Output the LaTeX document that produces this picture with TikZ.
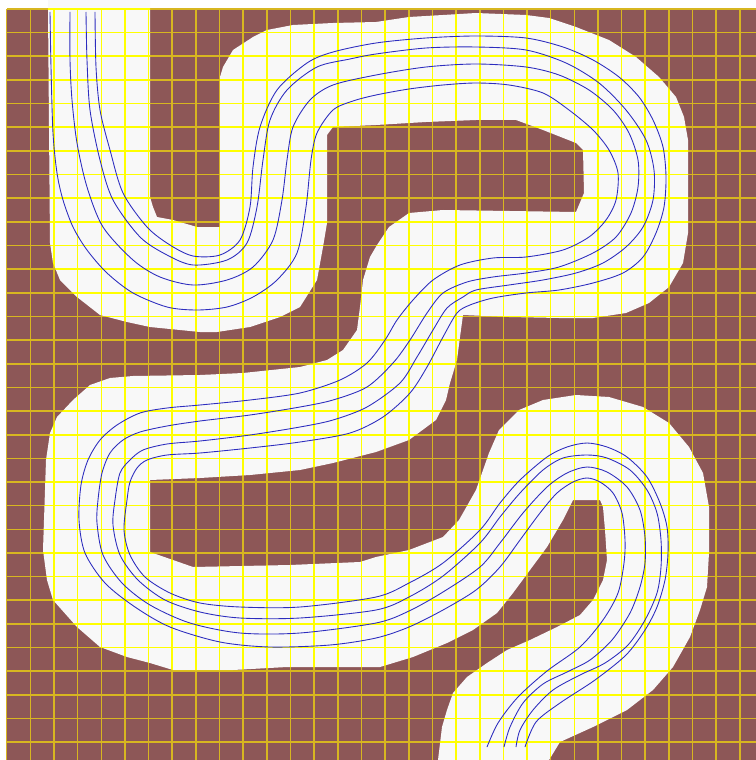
\documentclass[tikz,border=0pt]{standalone}
\definecolor{ground}{RGB}{141,87,87}
\definecolor{trackwhite}{RGB}{248,248,248}
\definecolor{gridyellow}{RGB}{255,255,0}
\definecolor{gridgold}{RGB}{215,182,32}
\definecolor{laneblue}{RGB}{45,45,190}

\def\trackoutline{(48,0) -- (48,9) -- (50,243) -- (53,263) -- (60,280) -- (77,297) -- (100,315)
    -- (127,322) -- (150,327) -- (200,332) -- (217,332) -- (250,327) -- (280,317) -- (300,307)
    -- (317,280) -- (323,247) -- (327,223) -- (327,135) -- (333,127) -- (376,125) -- (426,122)
    -- (476,120) -- (516,120) -- (543,130) -- (576,143) -- (583,150) -- (584,193) -- (576,212)
    -- (443,210) -- (409,213) -- (389,227) -- (377,245) -- (370,257) -- (363,280) -- (360,307)
    -- (357,330) -- (343,350) -- (327,360) -- (300,367) -- (243,373) -- (200,375) -- (133,376)
    -- (110,378) -- (90,385) -- (73,400) -- (57,417) -- (50,433) -- (46,460) -- (43,550)
    -- (47,580) -- (53,600) -- (77,627) -- (100,647) -- (127,657) -- (150,663) -- (173,670)
    -- (233,670) -- (287,667) -- (333,667) -- (380,667) -- (413,657) -- (447,643) -- (473,630)
    -- (497,613) -- (513,593) -- (530,570) -- (547,547) -- (563,520) -- (573,500) -- (600,500)
    -- (603,507) -- (605,530) -- (607,560) -- (603,580) -- (593,600) -- (580,615) -- (557,627)
    -- (530,640) -- (507,650) -- (487,663) -- (467,677) -- (453,693) -- (447,710) -- (442,727)
    -- (438,760) -- (549,760) -- (560,742) -- (593,727) -- (627,710) -- (653,690) -- (673,667)
    -- (690,637) -- (700,610) -- (707,587) -- (709,553) -- (709,507) -- (703,473) -- (689,447)
    -- (669,423) -- (643,407) -- (609,397) -- (576,395) -- (543,400) -- (519,410) -- (499,430)
    -- (489,453) -- (476,490) -- (459,520) -- (443,537) -- (409,550) -- (376,557) -- (360,562)
    -- (290,565) -- (193,567) -- (150,552) -- (150,480) -- (200,478) -- (250,475) -- (300,470)
    -- (333,463) -- (376,452) -- (409,440) -- (436,420) -- (446,400) -- (450,383) -- (457,360)
    -- (460,337) -- (463,315) -- (509,317) -- (559,318) -- (593,318) -- (626,313) -- (649,303)
    -- (669,287) -- (683,263) -- (688,233) -- (688,140) -- (684,117) -- (676,97) -- (659,77)
    -- (636,57) -- (609,40) -- (576,27) -- (549,18) -- (526,15) -- (476,13) -- (443,15)
    -- (409,17) -- (376,22) -- (333,23) -- (293,25) -- (267,30) -- (253,37) -- (233,50)
    -- (223,67) -- (220,77) -- (220,227) -- (197,227) -- (173,220) -- (157,217) -- (153,207)
    -- (150,197) -- (150,0) -- cycle}

\begin{document}
\begin{tikzpicture}[x=0.02cm,y=-0.02cm,line join=round,
    track/.style={fill=trackwhite},
    gridline/.style={line width=0.032cm},
    lane/.style={draw=laneblue,line width=0.5pt}]
  \useasboundingbox (0,0) rectangle (756,760);
  \clip (0,0) rectangle (756,760);
  \fill[white] (0,0) rectangle (756,760);
  \fill[ground] (7,9) rectangle (756,760);
  % the white track
  \fill[track] \trackoutline;
  % grid, golden on the ground and yellow on the track
  \foreach \i in {0,...,31} {
    \draw[gridline,gridgold] ({6.7+23.65*\i},9) -- ++(0,751);
    \draw[gridline,gridgold] (7,{9+23.65*\i}) -- ++(749,0);
  }
  \begin{scope}
    \clip \trackoutline;
    \foreach \i in {0,...,31} {
      \draw[gridline,gridyellow] ({6.7+23.65*\i},9) -- ++(0,751);
      \draw[gridline,gridyellow] (7,{9+23.65*\i}) -- ++(749,0);
    }
  \end{scope}
  % racing lines
  \draw[lane] plot[smooth] coordinates {(50,12) (51,67) (53,133) (57,173) (63,200) (73,227)
    (87,250) (107,273) (133,293) (167,307) (197,310) (227,307) (253,297) (277,280) (297,253)
    (306,207) (311,160) (317,133) (333,110) (353,101) (376,95) (409,89) (443,85) (476,83)
    (509,85) (543,93) (569,110) (593,130) (609,150) (618,173) (616,200) (606,220) (589,237)
    (563,250) (526,257) (493,258) (460,265) (433,280) (413,300) (397,320) (385,340) (367,363)
    (340,380) (300,393) (250,400) (200,405) (167,408) (140,413) (117,425) (100,440) (88,460)
    (81,485) (79,520) (85,553) (105,583) (135,607) (170,627) (220,642) (270,647) (330,645)
    (376,638) (409,627) (443,610) (476,590) (500,567) (520,540) (540,513) (557,493) (573,482)
    (587,478) (600,482) (613,493) (622,513) (625,540) (624,563) (618,593) (603,620) (580,647)
    (547,671) (518,697) (498,723) (487,747)};
  \draw[lane] plot[smooth] coordinates {(70,12) (70,60) (72,100) (77,143) (87,187) (103,227)
    (133,260) (160,277) (193,285) (227,280) (253,267) (273,240) (282,200) (287,160) (293,127)
    (310,100) (333,85) (376,75) (426,67) (476,64) (526,67) (559,75) (589,90) (613,110)
    (629,133) (638,160) (638,187) (631,213) (616,237) (593,253) (559,267) (526,273) (493,277)
    (467,282) (443,293) (427,313) (410,340) (393,363) (367,387) (333,400) (300,407) (250,415)
    (200,421) (167,426) (140,432) (123,440) (110,453) (102,473) (98,500) (97,523) (103,555)
    (122,583) (150,605) (190,623) (240,633) (300,633) (376,623) (409,611) (443,592) (480,567)
    (500,543) (523,513) (547,487) (567,473) (587,467) (607,472) (627,487) (640,510) (645,537)
    (645,563) (640,587) (630,613) (612,640) (590,660) (567,672) (543,684) (523,703) (510,727)
    (504,747)};
  \draw[lane] plot[smooth] coordinates {(86,12) (87,60) (90,110) (100,160) (113,200) (140,237)
    (167,255) (193,265) (227,260) (247,243) (257,207) (263,160) (270,120) (287,90) (317,67)
    (350,59) (376,54) (426,48) (476,47) (526,50) (566,63) (599,83) (626,110) (646,140)
    (654,170) (653,200) (643,227) (626,247) (603,263) (576,273) (543,280) (509,285) (476,290)
    (463,297) (447,308) (433,330) (417,357) (400,383) (367,407) (333,420) (300,427) (250,435)
    (200,441) (167,444) (143,450) (130,460) (120,473) (115,500) (113,525) (120,555) (138,580)
    (165,600) (200,612) (240,618) (300,618) (376,610) (409,597) (443,576) (480,543) (500,517)
    (520,493) (543,470) (563,458) (587,455) (607,458) (630,470) (647,490) (657,513) (661,540)
    (661,567) (657,593) (645,620) (628,645) (605,663) (580,675) (553,690) (533,710) (520,730)
    (516,747)};
  \draw[lane] plot[smooth] coordinates {(95,12) (96,67) (100,110) (110,150) (123,193) (147,227)
    (170,245) (193,256) (220,255) (240,240) (250,207) (253,167) (260,127) (277,90) (307,63)
    (333,52) (376,43) (426,38) (476,36) (526,38) (563,47) (593,60) (619,77) (639,97)
    (653,120) (663,147) (666,177) (664,207) (656,233) (643,257) (623,273) (593,283) (559,290)
    (526,293) (493,298) (470,305) (457,313) (443,337) (427,367) (410,393) (383,417) (350,433)
    (300,442) (250,448) (200,453) (167,455) (147,460) (137,468) (130,482) (127,500) (124,530)
    (130,555) (145,577) (170,593) (200,603) (240,607) (300,607) (376,597) (409,583) (443,563)
    (480,530) (500,503) (520,480) (547,457) (567,447) (587,443) (607,447) (627,457) (647,477)
    (660,503) (667,527) (668,553) (665,580) (657,607) (645,630) (626,655) (595,680) (560,703)
    (536,722) (525,747)};
\end{tikzpicture}
\end{document}
